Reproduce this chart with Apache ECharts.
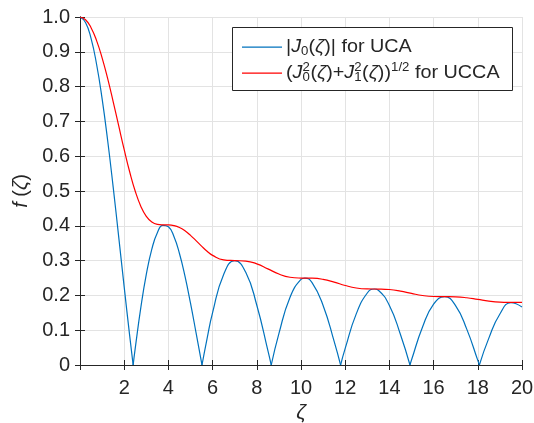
<!DOCTYPE html>
<html lang="en">
<head>
    <meta charset="UTF-8">
    <title>Bessel envelope</title>
    <style type="text/css">
    body,
    html {
        width: 100%;
        height: 100%;
        margin: 0;
        padding: 0;
        background: #fff;
    }

    #chart {
        width: 534px;
        height: 423px;
    }
    </style>
</head>
<body>
    <div id="chart"></div>
    <script src="https://cdn.jsdelivr.net/npm/echarts@6/dist/echarts.min.js"></script>
    <script type="text/javascript">

    // zeta sample points for the red curve
    var zeta = [0, 0.25, 0.5, 0.75, 1, 1.25, 1.5, 1.75, 2, 2.25, 2.5, 2.75, 3, 3.25, 3.5, 3.75, 4,
        4.25, 4.5, 4.75, 5, 5.25, 5.5, 5.75, 6, 6.5, 7, 7.5, 8, 8.5, 9, 9.5, 10,
        10.5, 11, 11.5, 12, 12.5, 13, 13.5, 14, 14.5, 15, 15.5, 16, 16.5, 17, 17.5, 18, 18.5, 19, 19.5, 20];

    // (J0^2 + J1^2)^(1/2), UCCA
    var ucca = [1.0, 0.9922, 0.9692, 0.9321, 0.8827, 0.8234, 0.7571, 0.6876, 0.6187, 0.5546, 0.4994,
        0.4565, 0.4273, 0.4109, 0.4042, 0.4028, 0.4026,
        0.4006, 0.3951, 0.3856, 0.3726, 0.3573, 0.3415, 0.3269, 0.3150, 0.3022, 0.3001, 0.2987, 0.2907,
        0.2763, 0.2614, 0.2522, 0.2498,
        0.2494, 0.2461, 0.2382, 0.2285, 0.2213, 0.2186, 0.2183, 0.2169, 0.2123, 0.2056,
        0.1997, 0.1969, 0.1965, 0.1959, 0.1932, 0.1884, 0.1836, 0.1808, 0.1801, 0.1799];

    // |J0|, UCA - one arch between each pair of zeros
    var uca1 = [[0, 1.0], [0.25, 0.9844], [0.5, 0.9385], [0.75, 0.8642], [1, 0.7652], [1.25, 0.6459],
        [1.5, 0.5118], [1.75, 0.3690], [2, 0.2239], [2.25, 0.0828], [2.4048, 0]];
    var uca2 = [[2.4048, 0], [2.5, 0.0484], [2.75, 0.1641], [3, 0.2601], [3.25, 0.3328], [3.5, 0.3801],
        [3.75, 0.4014], [4, 0.3971], [4.25, 0.3692], [4.5, 0.3205], [4.75, 0.2551], [5, 0.1776],
        [5.25, 0.0931], [5.5, 0.0068], [5.5201, 0]];
    var uca3 = [[5.5201, 0], [5.75, 0.0760], [6, 0.1506], [6.5, 0.2601], [7, 0.3001], [7.5, 0.2663],
        [8, 0.1717], [8.5, 0.0419], [8.6537, 0]];
    var uca4 = [[8.6537, 0], [9, 0.0903], [9.5, 0.1939], [10, 0.2459], [10.1735, 0.2497], [10.5, 0.2367],
        [11, 0.1712], [11.5, 0.0677], [11.7915, 0]];
    var uca5 = [[11.7915, 0], [12, 0.0477], [12.5, 0.1469], [13, 0.2069], [13.3237, 0.2184], [13.5, 0.2150],
        [14, 0.1711], [14.5, 0.0876], [14.9309, 0]];
    var uca6 = [[14.9309, 0], [15, 0.0142], [15.5, 0.1092], [16, 0.1749], [16.5, 0.1964], [17, 0.1699],
        [17.5, 0.1031], [18, 0.0134], [18.0711, 0]];
    var uca7 = [[18.0711, 0], [18.5, 0.0772], [19, 0.1466], [19.5, 0.1789], [20, 0.1670]];

    var ucaArcs = [uca1, uca2, uca3, uca4, uca5, uca6, uca7];

    var fontFamily = '"Liberation Sans", Arial, Helvetica, sans-serif';
    var blue = '#0072BD';
    var red = '#FF0000';
    var ink = '#262626';

    var chart = echarts.init(document.getElementById('chart'));

    // legend text built from small pieces (sub / superscripts)
    var measureCtx = document.createElement('canvas').getContext('2d');

    function fontOf(p) {
        var size = p.small ? 12 : 18;
        return (p.italic ? 'italic ' : '') + size + 'px ' + fontFamily;
    }

    function textPieces(pieces, yMid) {
        var out = [];
        var x = 0;
        pieces.forEach(function(p) {
            if (p.stack) {
                var w = 0;
                p.stack.forEach(function(s) {
                    var f = fontOf({ small: true });
                    measureCtx.font = f;
                    w = Math.max(w, measureCtx.measureText(s.t).width);
                    out.push({
                        type: 'text',
                        z: 12,
                        style: { text: s.t, x: x, y: yMid + s.dy, font: f, fill: ink, verticalAlign: 'middle', textVerticalAlign: 'middle' },
                        silent: true
                    });
                });
                x += w + 0.5;
                return;
            }
            var f = fontOf(p);
            measureCtx.font = f;
            out.push({
                type: 'text',
                z: 12,
                style: { text: p.t, x: x, y: yMid + (p.dy || 0), font: f, fill: ink, verticalAlign: 'middle', textVerticalAlign: 'middle' },
                silent: true
            });
            x += measureCtx.measureText(p.t).width;
        });
        return out;
    }

    var line1 = [
        { t: '|' }, { t: 'J', italic: true }, { t: '0', small: true, dy: 5 }, { t: '(' }, { t: 'ζ', italic: true },
        { t: ')' }, { t: '|' }, { t: ' for UCA' }
    ];
    var line2 = [
        { t: '(' }, { t: 'J', italic: true }, { stack: [{ t: '2', dy: -5 }, { t: '0', dy: 5 }] },
        { t: '(' }, { t: 'ζ', italic: true }, { t: ')' }, { t: '+' },
        { t: 'J', italic: true }, { stack: [{ t: '2', dy: -5 }, { t: '1', dy: 5 }] },
        { t: '(' }, { t: 'ζ', italic: true }, { t: ')' }, { t: ')' },
        { t: '1/2', small: true, dy: -5 }, { t: ' for UCCA' }
    ];

    var graphics = [{
        type: 'rect',
        shape: { x: 232.5, y: 27.5, width: 280, height: 63 },
        style: { fill: '#fff', stroke: ink, lineWidth: 1 },
        z: 10
    }, {
        type: 'rect',
        shape: { x: 242, y: 46.5, width: 40, height: 1.3 },
        style: { fill: blue },
        z: 11
    }, {
        type: 'rect',
        shape: { x: 242, y: 72.5, width: 40, height: 1.3 },
        style: { fill: red },
        z: 11
    }, {
        type: 'group',
        x: 286,
        y: 0,
        scaleX: 1.1,
        z: 12,
        children: textPieces(line1, 47).concat(textPieces(line2, 73))
    }];

    var series = ucaArcs.map(function(arc) {
        return {
            name: 'UCA',
            type: 'line',
            data: arc,
            smooth: true,
            symbol: 'none',
            lineStyle: { color: blue, width: 1.2 },
            z: 3
        };
    });
    series.push({
        name: 'UCCA',
        type: 'line',
        data: zeta.map(function(z, i) { return [z, ucca[i]]; }),
        smooth: true,
        symbol: 'none',
        lineStyle: { color: red, width: 1.2 },
        z: 4
    });

    var option = {
        animation: false,
        backgroundColor: '#fff',
        grid: {
            left: 80,
            right: 12,
            top: 17,
            bottom: 58,
            containLabel: false,
            outerBoundsMode: 'none'
        },
        xAxis: [{
            type: 'value',
            min: 0,
            max: 20,
            interval: 2,
            name: 'ζ',
            nameLocation: 'middle',
            nameGap: 31,
            nameTextStyle: { fontFamily: fontFamily, fontSize: 21, fontStyle: 'italic', color: ink },
            axisLine: { lineStyle: { color: ink, width: 1 } },
            axisTick: { inside: true, length: 5, lineStyle: { color: ink } },
            axisLabel: {
                margin: 13,
                fontFamily: fontFamily,
                fontSize: 20,
                color: ink,
                formatter: function(v) { return v === 0 ? '' : String(v); }
            },
            splitLine: { show: true, lineStyle: { color: '#e3e3e3', width: 1 } }
        }, {
            type: 'value',
            position: 'top',
            min: 0,
            max: 20,
            interval: 2,
            axisLine: { show: true, lineStyle: { color: ink, width: 1 } },
            axisTick: { show: true, inside: true, length: 5, lineStyle: { color: ink } },
            axisLabel: { show: false },
            splitLine: { show: false }
        }],
        yAxis: [{
            type: 'value',
            min: 0,
            max: 1,
            interval: 0.1,
            name: '{i|f} ({i|ζ})',
            nameLocation: 'middle',
            nameGap: 44,
            nameTextStyle: {
                fontFamily: fontFamily,
                fontSize: 20,
                color: ink,
                rich: { i: { fontFamily: fontFamily, fontSize: 20, fontStyle: 'italic', color: ink } }
            },
            axisLine: { show: true, lineStyle: { color: ink, width: 1 } },
            axisTick: { show: true, inside: true, length: 5, lineStyle: { color: ink } },
            axisLabel: {
                margin: 10,
                fontFamily: fontFamily,
                fontSize: 20,
                color: ink,
                formatter: function(v) { return v === 0 ? '0' : v.toFixed(1); }
            },
            splitLine: { show: true, lineStyle: { color: '#e3e3e3', width: 1 } }
        }, {
            type: 'value',
            position: 'right',
            min: 0,
            max: 1,
            interval: 0.1,
            axisLine: { show: true, lineStyle: { color: ink, width: 1 } },
            axisTick: { show: true, inside: true, length: 5, lineStyle: { color: ink } },
            axisLabel: { show: false },
            splitLine: { show: false }
        }],
        graphic: graphics,
        series: series
    };

    chart.setOption(option);
    </script>
</body>
</html>
